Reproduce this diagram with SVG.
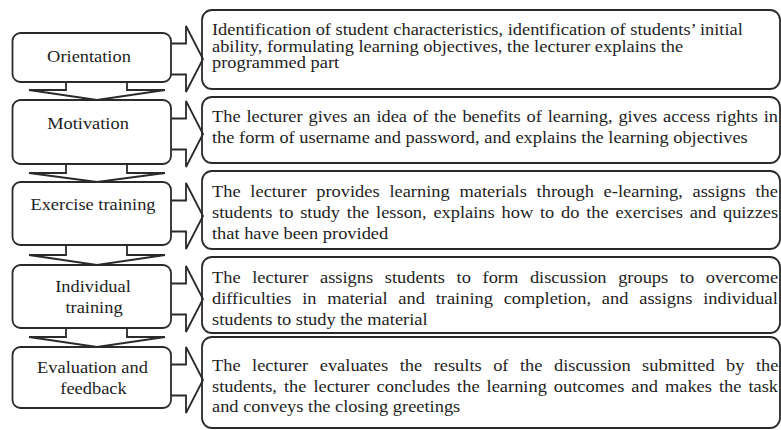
<svg xmlns="http://www.w3.org/2000/svg" width="781" height="430" viewBox="0 0 781 430">
  <style>
    .box { fill: #ffffff; stroke: #2a2a2a; stroke-width: 1.8; }
    .conn { fill: none; stroke: #2a2a2a; stroke-width: 1.8; stroke-linejoin: miter; }
    text { font-family: "Liberation Serif", "Times New Roman", serif; font-size: 16px; fill: #1e1e1e; }
    .step { text-anchor: middle; }
  </style>
  <rect width="781" height="430" fill="#ffffff"/>

  <!-- process steps (left column) -->
  <g id="step-orientation">
    <rect class="box" x="12.5" y="33" width="158.5" height="49" rx="8"/>
    <text class="step" transform="translate(89 62) scale(1.15 1)">Orientation</text>
  </g>
  <g id="step-motivation">
    <rect class="box" x="12.5" y="100" width="158.5" height="64" rx="8"/>
    <text class="step" transform="translate(88 129) scale(1.15 1)">Motivation</text>
  </g>
  <g id="step-exercise">
    <rect class="box" x="12.5" y="182" width="158.5" height="63" rx="8"/>
    <text class="step" transform="translate(93 210) scale(1.15 1)">Exercise training</text>
  </g>
  <g id="step-individual">
    <rect class="box" x="12.5" y="265" width="158.5" height="63" rx="8"/>
    <text class="step" transform="translate(93 292) scale(1.15 1)">Individual</text>
    <text class="step" transform="translate(94 313) scale(1.15 1)">training</text>
  </g>
  <g id="step-evaluation">
    <rect class="box" x="12.5" y="347" width="158.5" height="61" rx="8"/>
    <text class="step" transform="translate(92.5 373) scale(1.15 1)">Evaluation and</text>
    <text class="step" transform="translate(93.5 394) scale(1.15 1)">feedback</text>
  </g>

  <!-- descriptions (right column) -->
  <g id="desc-orientation">
    <rect class="box" x="202" y="10" width="578" height="79" rx="10"/>
    <g transform="translate(212 0) scale(1.15 1)">
      <text x="0" y="35">Identification of student characteristics, identification of students’ initial</text>
      <text x="0" y="52">ability, formulating learning objectives, the lecturer explains the</text>
      <text x="0" y="68">programmed part</text>
    </g>
  </g>
  <g id="desc-motivation">
    <rect class="box" x="202" y="97" width="578" height="66" rx="10"/>
    <g transform="translate(212 0) scale(1.15 1)">
      <text x="0" y="122" word-spacing="1.1">The lecturer gives an idea of the benefits of learning, gives access rights in</text>
      <text x="0" y="143">the form of username and password, and explains the learning objectives</text>
    </g>
  </g>
  <g id="desc-exercise">
    <rect class="box" x="202" y="171" width="578" height="78" rx="10"/>
    <g transform="translate(212 0) scale(1.15 1)">
      <text x="0" y="197" word-spacing="4.5">The lecturer provides learning materials through e-learning, assigns the</text>
      <text x="0" y="218" word-spacing="1.9">students to study the lesson, explains how to do the exercises and quizzes</text>
      <text x="0" y="239">that have been provided</text>
    </g>
  </g>
  <g id="desc-individual">
    <rect class="box" x="202" y="257" width="578" height="76" rx="10"/>
    <g transform="translate(212 0) scale(1.15 1)">
      <text x="0" y="283" word-spacing="6.1">The lecturer assigns students to form discussion groups to overcome</text>
      <text x="0" y="304" word-spacing="5.4">difficulties in material and training completion, and assigns individual</text>
      <text x="0" y="325">students to study the material</text>
    </g>
  </g>
  <g id="desc-evaluation">
    <rect class="box" x="202" y="337" width="578" height="91" rx="10"/>
    <g transform="translate(212 0) scale(1.15 1)">
      <text x="0" y="371" word-spacing="6">The lecturer evaluates the results of the discussion submitted by the</text>
      <text x="0" y="392" word-spacing="2.1">students, the lecturer concludes the learning outcomes and makes the task</text>
      <text x="0" y="412">and conveys the closing greetings</text>
    </g>
  </g>

  <!-- block arrows -->
  <g id="connectors">
    <!-- step to step -->
    <path class="conn" d="M66 82 V90 H29 L97 100 L165 90 H127 V82"/>
    <path class="conn" d="M66 164 V173 H29 L97 182 L165 173 H127 V164"/>
    <path class="conn" d="M66 245 V255 H29 L97 265 L165 255 H127 V245"/>
    <path class="conn" d="M66 328 V337 H29 L97 347 L165 337 H127 V328"/>
    <!-- step to description -->
    <path class="conn" d="M171 43.5 H186 V26 L203 59 L186 92 V74.5 H171"/>
    <path class="conn" d="M171 118.5 H186 V101 L203 134 L186 167 V149.5 H171"/>
    <path class="conn" d="M171 200.5 H186 V183 L203 216 L186 249 V231.5 H171"/>
    <path class="conn" d="M171 283.5 H186 V266 L203 299 L186 332 V314.5 H171"/>
    <path class="conn" d="M171 364.5 H186 V347 L203 380 L186 413 V395.5 H171"/>
  </g>
</svg>
